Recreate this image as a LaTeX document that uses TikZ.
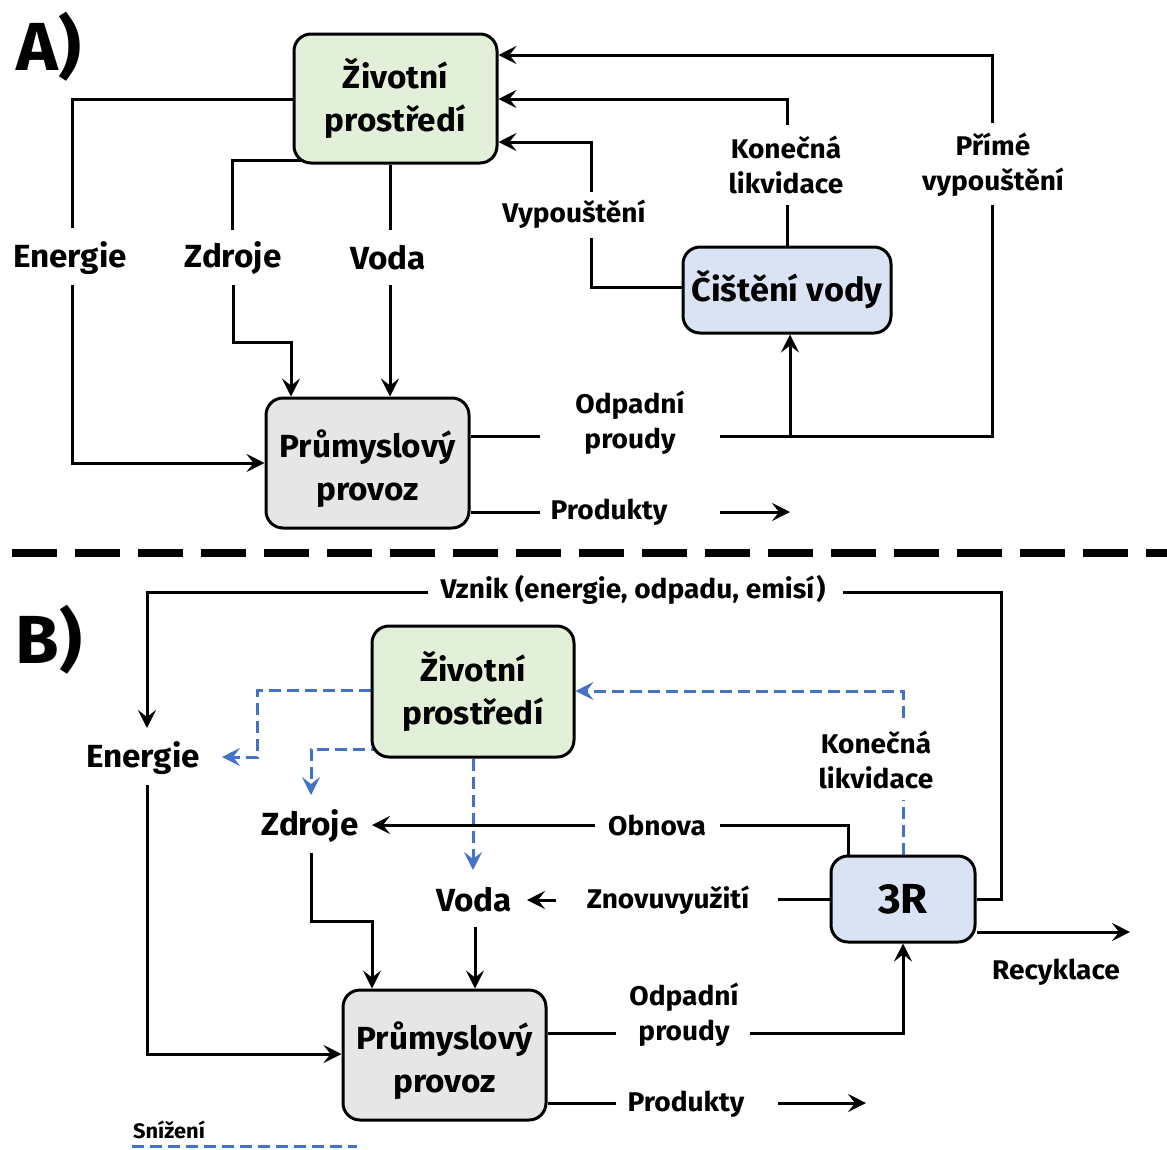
\documentclass[tikz,border=0pt]{standalone}
\usepackage{fontspec}
\setmainfont{Fira Sans}[FakeStretch=1.04]
\usetikzlibrary{arrows.meta,backgrounds}
\definecolor{envgreen}{HTML}{E2EFD9}
\definecolor{cleanblue}{HTML}{DAE3F3}
\definecolor{plantgray}{HTML}{E6E6E6}
\definecolor{cutblue}{HTML}{4472C4}
% two centred lines, set a little below the middle of their box
\newcommand{\lowtwo}[2]{\raisebox{0pt}[\dimexpr\height+14pt\relax]{\begin{tabular}{@{}c@{}}#1\\#2\end{tabular}}}
\begin{document}
\begin{tikzpicture}[x=1pt,y=-1pt,
  line width=3pt,
  box/.style={draw=black, line width=3pt, rounded corners=17pt, align=center, inner sep=0pt,
    font=\fontsize{32}{43}\selectfont\bfseries},
  big/.style={inner sep=0pt, align=center, font=\fontsize{32}{43}\selectfont\bfseries},
  small/.style={inner sep=0pt, align=center, font=\fontsize{27}{35}\selectfont\bfseries},
  panel/.style={inner sep=0pt, font=\fontsize{68}{70}\selectfont\bfseries},
  conn/.style={line width=3pt},
  arr/.style={-{Stealth[length=18pt,width=18pt,inset=7pt]}},
  cut/.style={draw=cutblue, dash pattern=on 12pt off 6pt},
  cutarr/.style={cut, -{Stealth[length=18pt,width=18pt,inset=7pt,color=cutblue]}},
]
\useasboundingbox (0,0) rectangle (1167,1149);

% ---------------- Panel A ----------------
\node[panel] (labA) at (49,47) {A)};
\node[box, fill=envgreen, minimum width=203pt, minimum height=129pt] (envA) at (395.5,98.5) {Životní\\prostředí};
\node[box, fill=cleanblue, minimum width=208pt, minimum height=86pt, font=\fontsize{33}{40}\selectfont\bfseries] (cistA) at (787,290) {Čištění vody};
\node[box, fill=plantgray, minimum width=203pt, minimum height=130pt] (provA) at (367.5,463) {\lowtwo{Průmyslový}{provoz}};

\node[big] (enA) at (70,258) {Energie};
\node[big] (zdA) at (233,258) {Zdroje};
\node[big] (voA) at (388,258) {Voda};
\node[small] (vypA) at (574,214) {Vypouštění};
\node[small] (konA) at (786,165) {Konečná\\likvidace};
\node[small] (primA) at (993,165) {Přímé\\vypouštění};
\node[small] (odpA) at (630,423) {Odpadní\\proudy};
\node[small] (prodA) at (609,512) {Produkty};

\begin{scope}[on background layer={conn}]
  % inputs from the environment
  \draw (envA.west |- 0,99) -| (72,228);
  \draw[arr] (72,285) |- (provA.west);
  \draw (envA.center |- 0,160) -| (232,230);
  \draw[arr] (233,285) |- (291,342) -- (provA.north -| 291,0);
  \draw (envA.south -| 390,0) -- (390,230);
  \draw[arr] (390,285) -- (provA.north -| 390,0);
  % returns to the environment
  \draw (cistA.west |- 0,287) -| (591,238);
  \draw[arr] (591,192) |- (envA.east |- 0,142);
  \draw (cistA.north) -- (787,205);
  \draw[arr] (787,125) |- (envA.east |- 0,99);
  \draw (720,436) -| (992,205);
  \draw[arr] (992,123) |- (envA.east |- 0,55);
  % outputs of the plant
  \draw (provA.east |- 0,436) -- (540,436);
  \draw[arr] (790,436) -- (cistA.south -| 790,0);
  \draw (provA.east |- 0,512) -- (540,512);
  \draw[arr] (720,512) -- (790,512);
\end{scope}

% separator
\draw[line width=8pt, dash pattern=on 45pt off 18pt] (12,553) -- (1167,553);

% ---------------- Panel B ----------------
\node[panel] (labB) at (49,640) {B)};
\node[box, fill=envgreen, minimum width=202pt, minimum height=131pt] (envB) at (473,691.5) {Životní\\prostředí};
\node[box, fill=cleanblue, minimum width=144pt, minimum height=86pt, font=\fontsize{42}{44}\selectfont\bfseries] (r3) at (903,899) {3R};
\node[box, fill=plantgray, minimum width=203pt, minimum height=130pt] (provB) at (444.5,1055) {\lowtwo{Průmyslový}{provoz}};

\node[small] (vznik) at (633,590) {Vznik (energie, odpadu, emisí)};
\node[big] (enB) at (143,758) {Energie};
\node[big] (zdB) at (310,826) {Zdroje};
\node[big] (voB) at (474,900) {Voda};
\node[small] (obn) at (657,825) {Obnova};
\node[small] (znov) at (668,900) {Znovuvyužití};
\node[small] (konB) at (876,760) {Konečná\\likvidace};
\node[small] (recy) at (1056,972) {Recyklace};
\node[small] (odpB) at (684,1015) {Odpadní\\proudy};
\node[small] (prodB) at (686,1104) {Produkty};
\node[inner sep=0pt, font=\fontsize{21}{24}\selectfont\bfseries] (sniz) at (169,1130) {Snížení};

\begin{scope}[on background layer={conn}]
  % generation loop back to energy
  \draw[arr] (428,592) -| (147,728);
  \draw (843,592) -| (1001,899) -- (r3.east);
  % reduction (dashed)
  \draw[cutarr] (envB.west |- 0,690) -| (257,757) -- (222,757);
  \draw[cutarr] (envB.center |- 0,749) -| (311,795);
  \draw[cutarr] (envB.south) -- (473,870);
  \draw[cut] (r3.north) -- (903,800);
  \draw[cutarr] (903,718) |- (envB.east |- 0,691);
  % recovery and reuse
  \draw (r3.north -| 848,0) |- (720,825);
  \draw[arr] (595,825) -- (372,825);
  \draw (r3.west) -- (778,899);
  \draw[arr] (556,900) -- (527,900);
  \draw[arr] (r3.east |- 0,932) -- (1130,932);
  % inputs to the plant
  \draw[arr] (311,853) |- (372,921) -- (provB.north -| 372,0);
  \draw[arr] (475,927) -- (provB.north -| 475,0);
  \draw[arr] (147,785) |- (provB.west |- 0,1054);
  % outputs of the plant
  \draw (provB.east |- 0,1033) -- (616,1033);
  \draw[arr] (750,1033) -| (r3.south);
  \draw (provB.east |- 0,1103) -- (616,1103);
  \draw[arr] (778,1103) -- (866,1103);
\end{scope}

% legend
\draw[cut] (132,1146) -- (357,1146);
\end{tikzpicture}
\end{document}
